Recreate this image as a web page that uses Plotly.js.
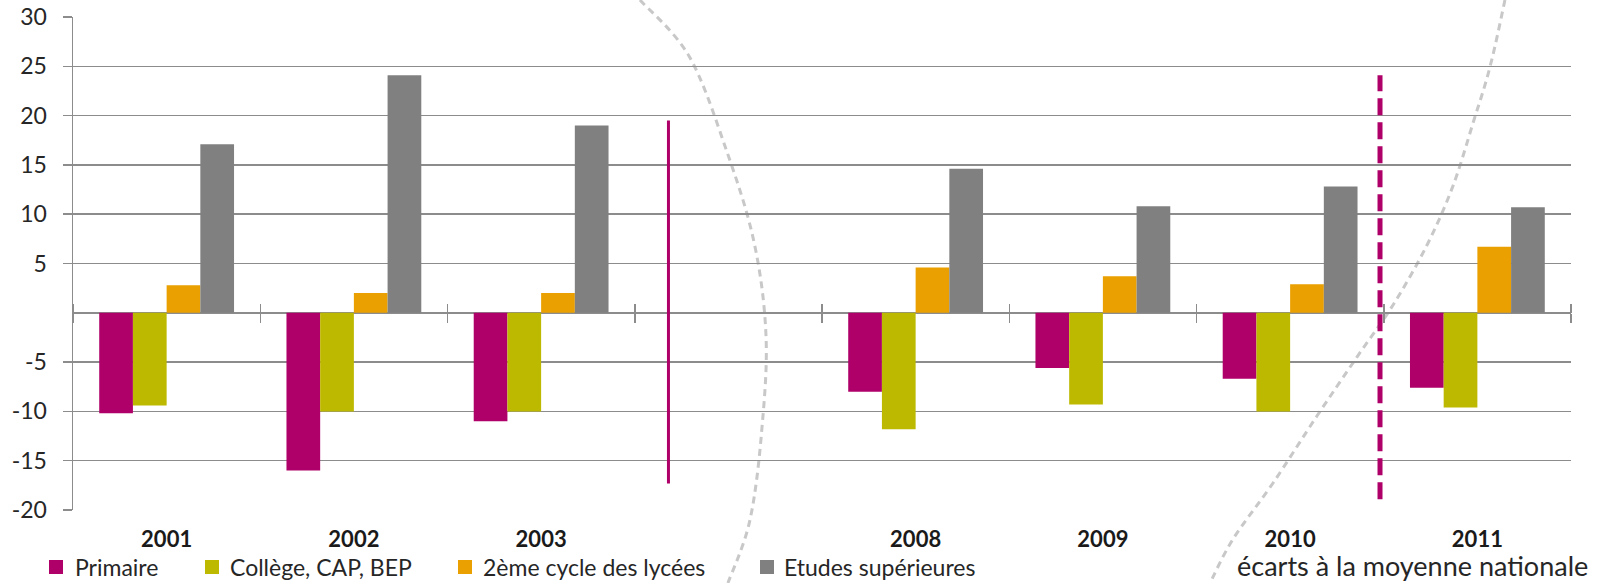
<!DOCTYPE html>
<html>
<head>
<meta charset="utf-8">
<script src="https://cdn.plot.ly/plotly-3.0.1.min.js"></script>
<style>html,body{margin:0;padding:0;background:#fff;}#chart{width:1599px;height:583px;}</style>
</head>
<body>
<div id="chart"></div>
<script>
// ---- data ----
const categories = ['2001', '2002', '2003', '\u00a0', '2008', '2009', '2010', '2011'];
const primaire   = [-10.2, -16.0, -11.0, null, -8.0, -5.6, -6.7, -7.6];
const college    = [-9.4, -10.0, -10.0, null, -11.8, -9.3, -10.0, -9.6];
const lycee      = [2.8, 2.0, 2.0, null, 4.6, 3.7, 2.9, 6.7];
const superieur  = [17.1, 24.1, 19.0, null, 14.6, 10.8, 12.8, 10.7];
const seriesNames = ['Primaire', 'Collège, CAP, BEP', '2ème cycle des lycées', 'Etudes supérieures'];
const yTickVals = [-20, -15, -10, -5, 5, 10, 15, 20, 25, 30];
const noteText = 'écarts à la moyenne nationale';
// separator lines (category-index position, value range)
const solidSep  = {x: 2.68, y0: -17.3, y1: 19.5};
const dashedSep = {x: 6.48, y0: -18.9, y1: 24.1};

// ---- style / layout geometry ----
const colors = ['#AE0068', '#BDB900', '#E9A000', '#808080'];
const grid = '#8c8c8c';
const FONT = 'Lato, "Open Sans", sans-serif';
const W = 1599, H = 583;
const M = {l: 73, r: 28, t: 17, b: 73, autoexpand: false};
const pw = W - M.l - M.r, ph = H - M.t - M.b;
const px2x = x => (x - M.l) / pw;
const px2y = y => (H - M.b - y) / ph;

// legend layout (pixel positions: key square left edge, text left edge)
const legendKeyLeft  = [49, 205, 458, 760];
const legendTextLeft = [73, 228, 481, 782];
const legendY = 567, keySize = 14;

// decorative background arcs (pixel positions in the picture)
const arcLeft  = [[640,0],[689,56],[726,149],[754,242],[766,335],[762,428],[750,520],[728,583]];
const arcRight = [[1505,0],[1490,67],[1473,123],[1453,186],[1427,245],[1393,305],[1357,357],[1317,416],[1273,483],[1233,539],[1210,583]];
function smoothPath(pts) {
  const p = pts.map(q => [px2x(q[0]), px2y(q[1])]);
  const f = v => v.toFixed(4);
  let d = 'M' + f(p[0][0]) + ',' + f(p[0][1]);
  for (let i = 0; i < p.length - 1; i++) {
    const p0 = p[Math.max(i - 1, 0)], p1 = p[i], p2 = p[i + 1], p3 = p[Math.min(i + 2, p.length - 1)];
    const c1 = [p1[0] + (p2[0] - p0[0]) / 6, p1[1] + (p2[1] - p0[1]) / 6];
    const c2 = [p2[0] - (p3[0] - p1[0]) / 6, p2[1] - (p3[1] - p1[1]) / 6];
    d += ' C' + f(c1[0]) + ',' + f(c1[1]) + ' ' + f(c2[0]) + ',' + f(c2[1]) + ' ' + f(p2[0]) + ',' + f(p2[1]);
  }
  return d;
}

const data = [primaire, college, lycee, superieur].map((vals, i) => ({
  type: 'bar', x: categories, y: vals, name: seriesNames[i], showlegend: false,
  marker: {color: colors[i], line: {width: 0}}, hoverinfo: 'x+y+name'
}));
// helper traces for the crossing tick marks on the zero line
data.push({type: 'scatter', mode: 'none', x: [-0.5, 7.5], y: [null, null], xaxis: 'x2', showlegend: false, hoverinfo: 'skip'});
data.push({type: 'scatter', mode: 'none', x: [-0.5, 7.5], y: [null, null], xaxis: 'x3', showlegend: false, hoverinfo: 'skip'});

const zeroPos = (0 - (-20)) / 50;
const tickAxis = side => ({
  overlaying: 'x', anchor: 'free', position: zeroPos, side: side, type: 'linear',
  range: [-0.5, 7.5], tick0: 0.5, dtick: 1, ticks: 'outside', ticklen: 9, tickwidth: 1.5,
  tickcolor: grid, showticklabels: false, showgrid: false, zeroline: false, showline: false
});

const shapes = [
  {type: 'path', xref: 'paper', yref: 'paper', path: smoothPath(arcLeft), layer: 'below',
   line: {color: '#c8c8c8', width: 3, dash: '7px,5px'}},
  {type: 'path', xref: 'paper', yref: 'paper', path: smoothPath(arcRight), layer: 'below',
   line: {color: '#c8c8c8', width: 3, dash: '7px,5px'}},
  {type: 'line', xref: 'x', yref: 'y', x0: solidSep.x, x1: solidSep.x, y0: solidSep.y0, y1: solidSep.y1,
   line: {color: '#AE0068', width: 3}},
  {type: 'line', xref: 'x', yref: 'y', x0: dashedSep.x, x1: dashedSep.x, y0: dashedSep.y0, y1: dashedSep.y1,
   line: {color: '#AE0068', width: 5, dash: '17px,7px'}}
];
const annotations = [{
  text: noteText, xref: 'paper', yref: 'paper', x: px2x(1590), y: px2y(565),
  xanchor: 'right', yanchor: 'middle', showarrow: false,
  font: {family: FONT, size: 27, color: '#262626'}
}];
// legend keys + labels
seriesNames.forEach((name, i) => {
  shapes.push({type: 'rect', xref: 'paper', yref: 'paper',
    x0: px2x(legendKeyLeft[i]), x1: px2x(legendKeyLeft[i] + keySize),
    y0: px2y(legendY - keySize / 2), y1: px2y(legendY + keySize / 2),
    fillcolor: colors[i], line: {width: 0}});
  annotations.push({text: name, xref: 'paper', yref: 'paper', x: px2x(legendTextLeft[i]), y: px2y(legendY),
    xanchor: 'left', yanchor: 'middle', showarrow: false,
    font: {family: FONT, size: 23, color: '#262626'}});
});

const layout = {
  width: W, height: H, margin: M,
  paper_bgcolor: '#fff', plot_bgcolor: 'rgba(0,0,0,0)',
  barmode: 'group', bargap: 0.28, bargroupgap: 0, showlegend: false,
  font: {family: FONT, color: '#262626'},
  xaxis: {
    type: 'category', categoryorder: 'array', categoryarray: categories, range: [-0.5, 7.5],
    showgrid: false, zeroline: false, showline: false, ticks: '',
    tickfont: {family: FONT, size: 22, color: '#1a1a1a', weight: 'bold'}, ticklabelstandoff: 14
  },
  xaxis2: tickAxis('bottom'),
  xaxis3: tickAxis('top'),
  yaxis: {
    range: [-20, 30], tickvals: yTickVals, ticktext: yTickVals.map(String),
    showgrid: true, gridcolor: grid, gridwidth: 1.5,
    zeroline: true, zerolinecolor: grid, zerolinewidth: 1.5,
    showline: true, linecolor: grid, linewidth: 1.5,
    ticks: 'outside', ticklen: 9, tickcolor: grid, tickwidth: 1.5,
    tickfont: {family: FONT, size: 23, color: '#262626'}, ticklabelstandoff: 11
  },
  annotations: annotations,
  shapes: shapes
};

Plotly.newPlot('chart', data, layout, {displayModeBar: false, staticPlot: true});
</script>
</body>
</html>
